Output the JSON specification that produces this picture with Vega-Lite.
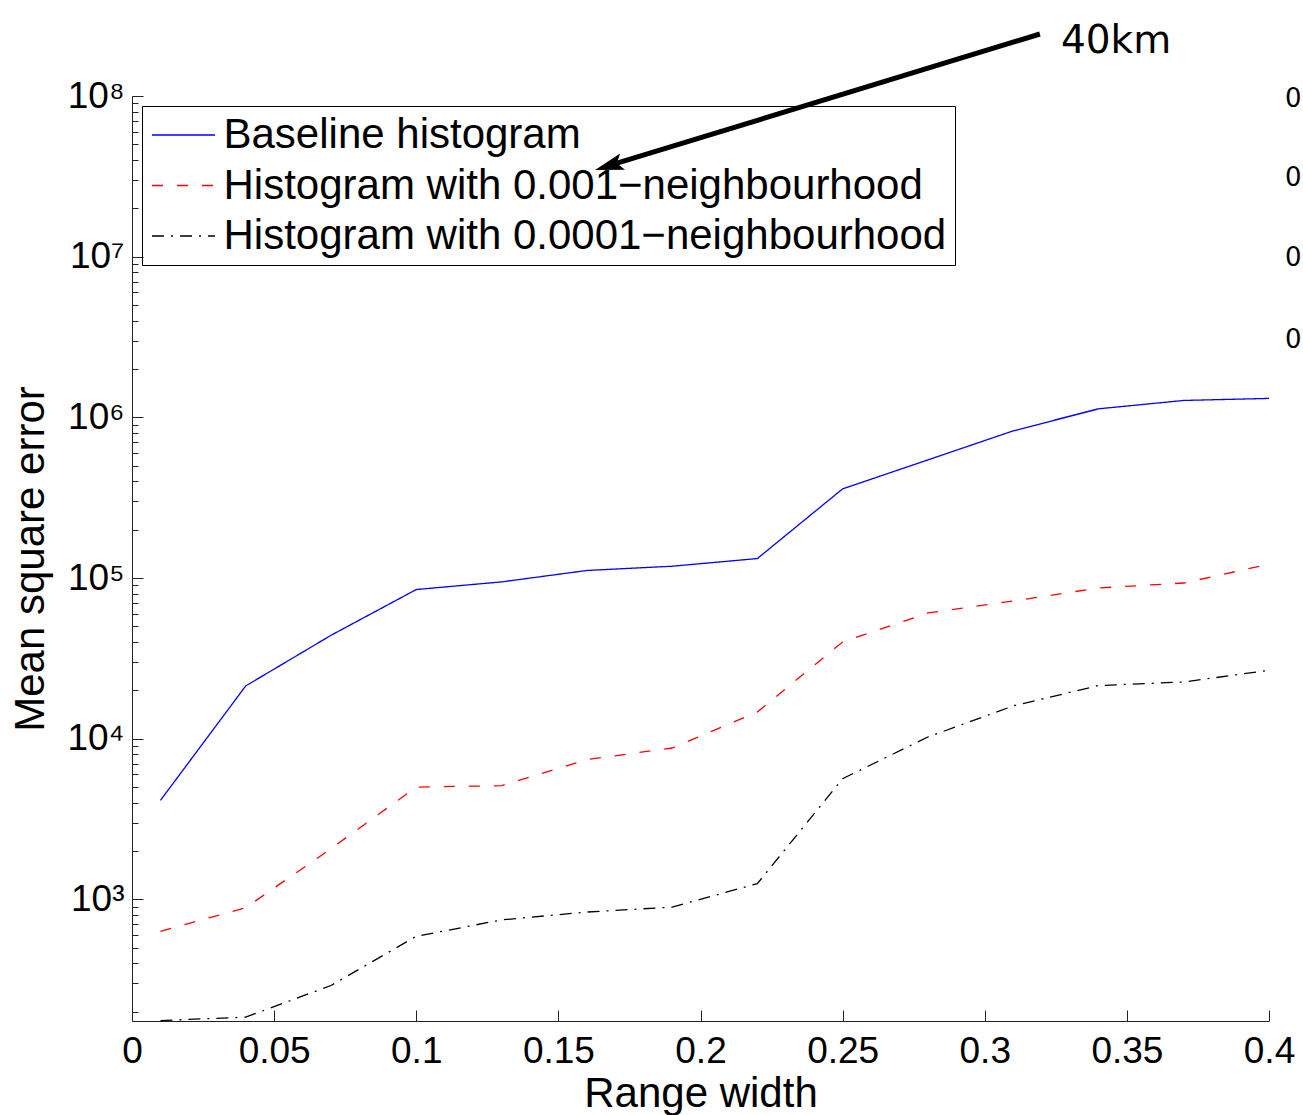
{
  "$schema": "https://vega.github.io/schema/vega-lite/v6.json",
  "width": 1137,
  "height": 925,
  "autosize": {"type": "none"},
  "padding": {"left": 132, "top": 96, "right": 34, "bottom": 94},
  "background": "white",
  "config": {
    "view": {"stroke": null},
    "font": "Liberation Sans",
    "axis": {
      "labelFont": "Liberation Sans",
      "titleFont": "Liberation Sans",
      "labelColor": "black",
      "titleColor": "black",
      "labelFontSize": 37,
      "titleFontSize": 42,
      "titleFontWeight": "normal",
      "domainColor": "#222222",
      "tickColor": "#222222",
      "domainWidth": 1,
      "tickWidth": 1,
      "grid": false,
      "labelOverlap": false,
      "labelFlush": false,
      "labelBound": false
    },
    "legend": {
      "orient": "top-left",
      "offset": 10,
      "labelFont": "Liberation Sans",
      "labelFontSize": 42,
      "labelColor": "black",
      "strokeColor": "black",
      "padding": 8,
      "symbolType": "M-3,0H3",
      "symbolSize": 441,
      "symbolStrokeWidth": 1.3,
      "symbolOffset": 12.5,
      "labelOffset": 19,
      "rowPadding": 8.5,
      "labelLimit": 0
    }
  },
  "datasets": {
    "mse": [
      {"w": 0.01, "mse": 4130, "series": "Baseline histogram"},
      {"w": 0.04, "mse": 21300, "series": "Baseline histogram"},
      {"w": 0.07, "mse": 44000, "series": "Baseline histogram"},
      {"w": 0.10, "mse": 84800, "series": "Baseline histogram"},
      {"w": 0.13, "mse": 94600, "series": "Baseline histogram"},
      {"w": 0.16, "mse": 111400, "series": "Baseline histogram"},
      {"w": 0.19, "mse": 118400, "series": "Baseline histogram"},
      {"w": 0.22, "mse": 132200, "series": "Baseline histogram"},
      {"w": 0.25, "mse": 358800, "series": "Baseline histogram"},
      {"w": 0.28, "mse": 543600, "series": "Baseline histogram"},
      {"w": 0.31, "mse": 824000, "series": "Baseline histogram"},
      {"w": 0.34, "mse": 1130000, "series": "Baseline histogram"},
      {"w": 0.37, "mse": 1274000, "series": "Baseline histogram"},
      {"w": 0.40, "mse": 1312000, "series": "Baseline histogram"},
      {"w": 0.01, "mse": 632, "series": "Histogram with 0.001−neighbourhood"},
      {"w": 0.04, "mse": 888, "series": "Histogram with 0.001−neighbourhood"},
      {"w": 0.07, "mse": 2069, "series": "Histogram with 0.001−neighbourhood"},
      {"w": 0.10, "mse": 5000, "series": "Histogram with 0.001−neighbourhood"},
      {"w": 0.13, "mse": 5100, "series": "Histogram with 0.001−neighbourhood"},
      {"w": 0.16, "mse": 7410, "series": "Histogram with 0.001−neighbourhood"},
      {"w": 0.19, "mse": 8750, "series": "Histogram with 0.001−neighbourhood"},
      {"w": 0.22, "mse": 14660, "series": "Histogram with 0.001−neighbourhood"},
      {"w": 0.25, "mse": 40000, "series": "Histogram with 0.001−neighbourhood"},
      {"w": 0.28, "mse": 60600, "series": "Histogram with 0.001−neighbourhood"},
      {"w": 0.31, "mse": 71900, "series": "Histogram with 0.001−neighbourhood"},
      {"w": 0.34, "mse": 86700, "series": "Histogram with 0.001−neighbourhood"},
      {"w": 0.37, "mse": 93100, "series": "Histogram with 0.001−neighbourhood"},
      {"w": 0.40, "mse": 121900, "series": "Histogram with 0.001−neighbourhood"},
      {"w": 0.01, "mse": 176, "series": "Histogram with 0.0001−neighbourhood"},
      {"w": 0.04, "mse": 185, "series": "Histogram with 0.0001−neighbourhood"},
      {"w": 0.07, "mse": 291, "series": "Histogram with 0.0001−neighbourhood"},
      {"w": 0.10, "mse": 589, "series": "Histogram with 0.0001−neighbourhood"},
      {"w": 0.13, "mse": 745, "series": "Histogram with 0.0001−neighbourhood"},
      {"w": 0.16, "mse": 834, "series": "Histogram with 0.0001−neighbourhood"},
      {"w": 0.19, "mse": 895, "series": "Histogram with 0.0001−neighbourhood"},
      {"w": 0.22, "mse": 1253, "series": "Histogram with 0.0001−neighbourhood"},
      {"w": 0.25, "mse": 5640, "series": "Histogram with 0.0001−neighbourhood"},
      {"w": 0.28, "mse": 10250, "series": "Histogram with 0.0001−neighbourhood"},
      {"w": 0.31, "mse": 15990, "series": "Histogram with 0.0001−neighbourhood"},
      {"w": 0.34, "mse": 21410, "series": "Histogram with 0.0001−neighbourhood"},
      {"w": 0.37, "mse": 22550, "series": "Histogram with 0.0001−neighbourhood"},
      {"w": 0.40, "mse": 26660, "series": "Histogram with 0.0001−neighbourhood"}
    ],
    "arrow": [{"x": 0.3194, "y": 243200000, "x2": 0.1689, "y2": 37350000}],
    "head": [{"x": 0.1629, "y": 34610000}],
    "note": [{"x": 0.3268, "y": 185200000, "text": "40km"}],
    "side": [
      {"x": 0.4056, "y": 95790000, "text": "0"},
      {"x": 0.4056, "y": 30860000, "text": "0"},
      {"x": 0.4056, "y": 9800000, "text": "0"},
      {"x": 0.4056, "y": 3025000, "text": "0"}
    ]
  },
  "layer": [
    {
      "data": {"name": "mse"},
      "mark": {"type": "line", "strokeWidth": 1.3},
      "encoding": {
        "x": {
          "field": "w",
          "type": "quantitative",
          "scale": {"domain": [0, 0.4], "nice": false, "zero": false},
          "axis": {
            "title": "Range width",
            "values": [0, 0.05, 0.1, 0.15, 0.2, 0.25, 0.3, 0.35, 0.4],
            "format": "~g",
            "tickSize": -11,
            "labelPadding": 23,
            "titlePadding": 4
          }
        },
        "y": {
          "field": "mse",
          "type": "quantitative",
          "scale": {"type": "log", "domain": [175, 100000000], "nice": false},
          "axis": {
            "title": "Mean square error",
            "values": [200, 300, 400, 500, 600, 700, 800, 900, 1000, 2000, 3000, 4000, 5000, 6000, 7000, 8000, 9000, 10000, 20000, 30000, 40000, 50000, 60000, 70000, 80000, 90000, 100000, 200000, 300000, 400000, 500000, 600000, 700000, 800000, 900000, 1000000, 2000000, 3000000, 4000000, 5000000, 6000000, 7000000, 8000000, 9000000, 10000000, 20000000, 30000000, 40000000, 50000000, 60000000, 70000000, 80000000, 90000000, 100000000],
            "labelExpr": "datum.value == 1000 ? '10³' : datum.value == 10000 ? '10⁴' : datum.value == 100000 ? '10⁵' : datum.value == 1000000 ? '10⁶' : datum.value == 10000000 ? '10⁷' : datum.value == 100000000 ? '10⁸' : ''",
            "tickSize": {"condition": {"test": "datum.value == 1000 || datum.value == 10000 || datum.value == 100000 || datum.value == 1000000 || datum.value == 10000000 || datum.value == 100000000", "value": -11}, "value": -6},
            "labelPadding": 19,
            "labelBaseline": "middle",
            "titlePadding": 14
          }
        },
        "color": {
          "field": "series",
          "type": "nominal",
          "scale": {
            "domain": ["Baseline histogram", "Histogram with 0.001−neighbourhood", "Histogram with 0.0001−neighbourhood"],
            "range": ["#0000ff", "#ff0000", "#000000"]
          },
          "legend": {"title": null}
        },
        "strokeDash": {
          "field": "series",
          "type": "nominal",
          "scale": {
            "domain": ["Baseline histogram", "Histogram with 0.001−neighbourhood", "Histogram with 0.0001−neighbourhood"],
            "range": [[1, 0], [11, 14], [12, 7, 2, 7]]
          },
          "legend": {"title": null}
        }
      }
    },
    {
      "data": {"name": "arrow"},
      "mark": {"type": "rule", "color": "black", "strokeWidth": 5},
      "encoding": {
        "x": {"field": "x", "type": "quantitative"},
        "y": {"field": "y", "type": "quantitative"},
        "x2": {"field": "x2"},
        "y2": {"field": "y2"}
      }
    },
    {
      "data": {"name": "head"},
      "mark": {"type": "point", "shape": "M0,0L2.4,-0.7L1.9,0L2.4,0.7Z", "size": 576, "angle": -17, "filled": true, "color": "black", "opacity": 1, "strokeWidth": 0},
      "encoding": {
        "x": {"field": "x", "type": "quantitative"},
        "y": {"field": "y", "type": "quantitative"}
      }
    },
    {
      "data": {"name": "note"},
      "mark": {"type": "text", "font": "DejaVu Sans", "fontSize": 39, "align": "left", "baseline": "alphabetic", "color": "black"},
      "encoding": {
        "x": {"field": "x", "type": "quantitative"},
        "y": {"field": "y", "type": "quantitative"},
        "text": {"field": "text"}
      }
    },
    {
      "data": {"name": "side"},
      "mark": {"type": "text", "font": "DejaVu Sans", "fontSize": 26, "align": "left", "baseline": "middle", "color": "black"},
      "encoding": {
        "x": {"field": "x", "type": "quantitative"},
        "y": {"field": "y", "type": "quantitative"},
        "text": {"field": "text"}
      }
    }
  ]
}
